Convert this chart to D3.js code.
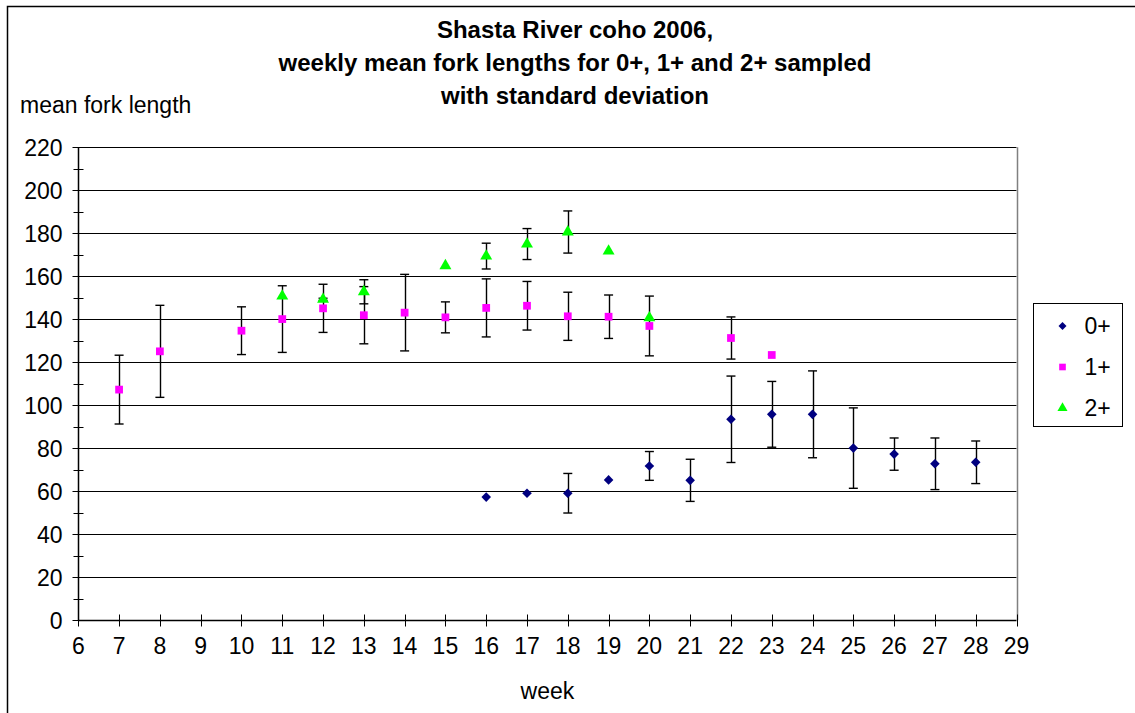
<!DOCTYPE html>
<html>
<head>
<meta charset="utf-8">
<script src="https://cdn.jsdelivr.net/npm/d3@7"></script>
<style>
  html, body { margin: 0; padding: 0; background: #fff; }
  svg { display: block; font-family: "Liberation Sans", Arial, sans-serif; }
</style>
</head>
<body>
<svg id="chart" width="1135" height="713"></svg>
<script>
// Weekly mean fork length (mm) and standard deviation per age class
const weeks0 = [16, 17, 18, 19, 20, 21, 22, 23, 24, 25, 26, 27, 28];
const mean0  = [57.3, 59.1, 59.1, 65.3, 71.8, 65.1, 93.5, 95.8, 95.8, 80.1, 77.3, 72.8, 73.5];
const sd0    = [null, null, 9.2, null, 6.7, 9.8, 20.1, 15.3, 20.2, 18.7, 7.5, 12.0, 9.9];

const weeks1 = [7, 8, 10, 11, 12, 13, 14, 15, 16, 17, 18, 19, 20, 22, 23];
const mean1  = [107.3, 125.1, 134.7, 140.1, 145.1, 141.9, 143.1, 140.9, 145.3, 146.3, 141.4, 141.2, 136.9, 131.3, 123.4];
const sd1    = [16.0, 21.4, 11.1, 15.5, 11.2, 13.3, 17.8, 7.2, 13.5, 11.3, 11.2, 10.1, 13.9, 9.8, null];

const weeks2 = [11, 12, 13, 15, 16, 17, 18, 19, 20];
const mean2  = [150.8, 149.3, 152.8, 164.9, 169.4, 175.0, 180.6, 171.7, 140.7];
const sd2    = [null, 0.5, 5.6, null, 6.0, 7.2, 9.8, null, null];

const seriesNames = ["0+", "1+", "2+"];
const xTicks = d3.range(6, 30);
const yTicks = d3.range(0, 221, 20);
const yMinorTicks = d3.range(10, 220, 20);

const colors = { "0+": "#000080", "1+": "#ff00ff", "2+": "#00ff00" };
const shapes = { "0+": d3.symbolSquare, "1+": d3.symbolSquare, "2+": d3.symbolTriangle };
const rotate = { "0+": 45, "1+": 0, "2+": 0 };
const sizes  = { "0+": 46, "1+": 60, "2+": 62 };

const series = [
  { name: "0+", weeks: weeks0, mean: mean0, sd: sd0 },
  { name: "1+", weeks: weeks1, mean: mean1, sd: sd1 },
  { name: "2+", weeks: weeks2, mean: mean2, sd: sd2 }
].map(s => ({
  name: s.name,
  points: s.weeks.map((w, i) => ({ week: w, mean: s.mean[i], sd: s.sd[i] }))
}));

const fontSize = 23;

const svg = d3.select("#chart");
const x = d3.scaleLinear().domain([6, 29]).range([78.3, 1016.5]);
const y = d3.scaleLinear().domain([0, 220]).range([620.3, 147.3]);

// outer chart frame
svg.append("rect")
  .attr("x", 7.5).attr("y", 6.5)
  .attr("width", 1140).attr("height", 720)
  .attr("fill", "#fff").attr("stroke", "#000").attr("stroke-width", 1.5);

// horizontal gridlines
svg.append("g")
  .selectAll("line")
  .data(yTicks.filter(v => v > 0))
  .join("line")
  .attr("x1", x(6)).attr("x2", x(29))
  .attr("y1", d => Math.round(y(d)) + 0.5).attr("y2", d => Math.round(y(d)) + 0.5)
  .attr("stroke", "#000").attr("stroke-width", 1);

// plot area right border
svg.append("line")
  .attr("x1", Math.round(x(29)) + 0.5).attr("x2", Math.round(x(29)) + 0.5)
  .attr("y1", y(220)).attr("y2", y(0))
  .attr("stroke", "#808080").attr("stroke-width", 1.5);

// y axis with crossing ticks
const yAxis = svg.append("g").attr("transform", `translate(${Math.round(x(6)) + 0.5},0)`);
yAxis.append("line").attr("y1", y(220)).attr("y2", y(0)).attr("stroke", "#000").attr("stroke-width", 1.5);
yAxis.selectAll("line.major").data(yTicks).join("line").attr("class", "major")
  .attr("x1", -6).attr("x2", 6)
  .attr("y1", d => Math.round(y(d)) + 0.5).attr("y2", d => Math.round(y(d)) + 0.5)
  .attr("stroke", "#000");
yAxis.selectAll("line.minor").data(yMinorTicks).join("line").attr("class", "minor")
  .attr("x1", -5).attr("x2", 5)
  .attr("y1", d => Math.round(y(d)) + 0.5).attr("y2", d => Math.round(y(d)) + 0.5)
  .attr("stroke", "#000");
yAxis.selectAll("text").data(yTicks).join("text")
  .attr("x", -16).attr("y", d => y(d))
  .attr("dy", "0.36em")
  .attr("text-anchor", "end")
  .attr("font-size", fontSize)
  .text(d => d);

// x axis with crossing ticks
const xAxis = svg.append("g").attr("transform", `translate(0,${Math.round(y(0)) + 0.5})`);
xAxis.append("line").attr("x1", x(6)).attr("x2", x(29)).attr("stroke", "#000").attr("stroke-width", 1.5);
xAxis.selectAll("line.tick").data(xTicks).join("line").attr("class", "tick")
  .attr("x1", d => Math.round(x(d)) + 0.5).attr("x2", d => Math.round(x(d)) + 0.5)
  .attr("y1", -6).attr("y2", 6)
  .attr("stroke", "#000");
xAxis.selectAll("text").data(xTicks).join("text")
  .attr("x", d => x(d)).attr("y", 33)
  .attr("text-anchor", "middle")
  .attr("font-size", fontSize)
  .text(d => d);

// axis titles
svg.append("text").attr("x", 20).attr("y", 113).attr("font-size", fontSize).text("mean fork length");
svg.append("text").attr("x", (x(6) + x(29)) / 2).attr("y", 699)
  .attr("text-anchor", "middle").attr("font-size", fontSize).text("week");

// chart title
const titleLines = [
  "Shasta River coho 2006,",
  "weekly mean fork lengths for 0+, 1+ and 2+ sampled",
  "with standard deviation"
];
svg.append("g").selectAll("text").data(titleLines).join("text")
  .attr("x", 575).attr("y", (d, i) => 38 + i * 33)
  .attr("text-anchor", "middle")
  .attr("font-size", 24).attr("font-weight", "bold")
  .text(d => d);

// error bars (mean ± sd)
const capHalf = 4.5;
series.forEach(s => {
  const g = svg.append("g").attr("class", "err-" + s.name);
  const pts = s.points.filter(p => p.sd != null);
  g.selectAll("line.stem").data(pts).join("line").attr("class", "stem")
    .attr("x1", d => Math.round(x(d.week)) + 0.5).attr("x2", d => Math.round(x(d.week)) + 0.5)
    .attr("y1", d => y(d.mean + d.sd)).attr("y2", d => y(d.mean - d.sd))
    .attr("stroke", "#000").attr("stroke-width", 1.4);
  [1, -1].forEach(sign => {
    g.selectAll("line.cap" + (sign > 0 ? "t" : "b")).data(pts).join("line")
      .attr("class", "cap" + (sign > 0 ? "t" : "b"))
      .attr("x1", d => x(d.week) - capHalf).attr("x2", d => x(d.week) + capHalf)
      .attr("y1", d => y(d.mean + sign * d.sd)).attr("y2", d => y(d.mean + sign * d.sd))
      .attr("stroke", "#000").attr("stroke-width", 1.4);
  });
});

// markers
series.forEach(s => {
  const sym = d3.symbol().type(shapes[s.name]).size(sizes[s.name]);
  svg.append("g").attr("class", "pts-" + s.name)
    .selectAll("path").data(s.points).join("path")
    .attr("transform", d => `translate(${x(d.week)},${y(d.mean)}) rotate(${rotate[s.name]})`)
    .attr("d", sym)
    .attr("fill", colors[s.name]);
});

// legend
const legend = svg.append("g").attr("transform", "translate(1033.5,303.5)");
legend.append("rect").attr("width", 89).attr("height", 123)
  .attr("fill", "#fff").attr("stroke", "#000").attr("stroke-width", 1);
seriesNames.forEach((name, i) => {
  const cy = 22.5 + i * 41;
  legend.append("path")
    .attr("transform", `translate(29,${cy}) rotate(${rotate[name]})`)
    .attr("d", d3.symbol().type(shapes[name]).size(name === "0+" ? 32 : 44)())
    .attr("fill", colors[name]);
  legend.append("text").attr("x", 51).attr("y", cy).attr("dy", "0.36em")
    .attr("font-size", fontSize).text(name);
});
</script>
</body>
</html>
